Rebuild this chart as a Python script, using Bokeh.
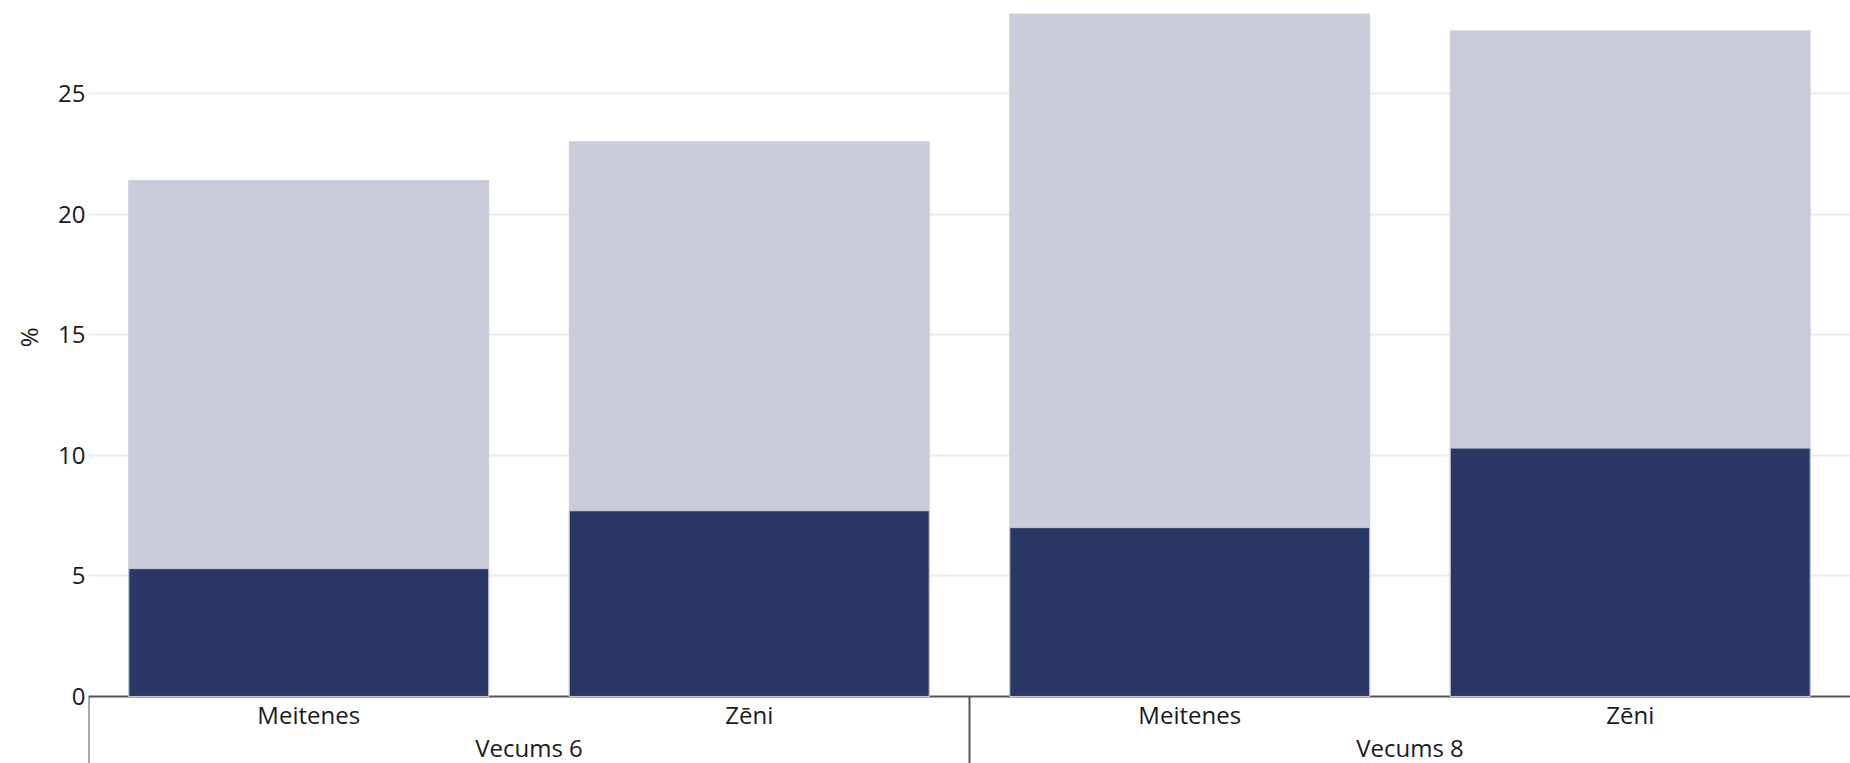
from bokeh.plotting import figure
from bokeh.models import FactorRange, Range1d, FixedTicker, Title, ColumnDataSource
from bokeh.core.properties import value
from bokeh.embed import file_html
from bokeh.resources import INLINE

# ---- data ----
groups = ["Vecums 6", "Vecums 8"]
subgroups = ["Meitenes", "Zēni"]
total_values = [21.4, 23.0, 28.3, 27.6]
dark_values = [5.3, 7.7, 7.0, 10.3]
y_ticks = [0, 5, 10, 15, 20, 25]
y_label = "%"

FONT = "Open Sans"
LIGHT = "#cacdd9"
DARK = "#2b3764"
TEXT = "#1a1a1a"
AXIS = "#555555"

factors = [(g, s) for g in groups for s in subgroups]
source = ColumnDataSource(data=dict(x=factors, total=total_values, dark=dark_values))

# start of each age group (synthetic coordinates) derived from the factor counts
starts = [0]
for g in groups[:-1]:
    starts.append(starts[-1] + len(subgroups))

x_range = FactorRange(*factors, range_padding=0, group_padding=0,
                      factor_padding=0, subgroup_padding=0)
y_start, y_end = -2.78, 28.86

p = figure(x_range=x_range, y_range=Range1d(y_start, y_end),
           width=1850, height=763, output_backend="svg", toolbar_location=None,
           min_border_left=88, min_border_right=0, min_border_top=0, min_border_bottom=0)
p.outline_line_color = None
p.background_fill_color = "white"
p.border_fill_color = "white"

p.vbar(x="x", top="total", bottom=0, width=0.817, source=source,
       fill_color=LIGHT, line_color="#c8cbdb", line_width=1)
p.vbar(x="x", top="dark", bottom=0, width=0.817, source=source,
       fill_color=DARK, line_color="#c5c9dc", line_width=1)

# separators at the start of each age group
p.segment(x0=starts, y0=[0] * len(starts), x1=starts, y1=[y_start] * len(starts),
          line_color=AXIS, line_width=2)

# group labels (age) under the sub-category labels
p.text(x=groups, y=[-2.12] * len(groups), text=groups,
       text_align="center", text_baseline="middle",
       text_font=value(FONT), text_font_size="24px", text_color=TEXT)

# x axis drawn at y = 0
xa = p.xaxis[0]
xa.fixed_location = 0
xa.axis_line_color = AXIS
xa.axis_line_width = 2
xa.major_tick_line_color = None
xa.major_tick_out = 0
xa.major_tick_in = 0
xa.minor_tick_line_color = None
xa.separator_line_color = None
xa.major_label_text_font = FONT
xa.major_label_text_font_size = "24px"
xa.major_label_text_color = TEXT
xa.major_label_standoff = 2
xa.major_label_orientation = "horizontal"
xa.group_text_color = None
xa.level = "underlay"

# y axis
ya = p.yaxis[0]
ya.ticker = FixedTicker(ticks=y_ticks)
ya.axis_line_color = None
ya.major_tick_line_color = None
ya.major_tick_out = 0
ya.major_tick_in = 0
ya.minor_tick_line_color = None
ya.major_label_standoff = 3
ya.major_label_text_font = FONT
ya.major_label_text_font_size = "24px"
ya.major_label_text_color = TEXT

p.xgrid.visible = False
p.ygrid.ticker = FixedTicker(ticks=[t for t in y_ticks if t > 0])
p.ygrid.grid_line_color = "#ececec"
p.ygrid.grid_line_width = 2

p.add_layout(Title(text=y_label, align="right", offset=327, vertical_align="top",
                   standoff=18, text_font=FONT, text_font_size="24px",
                   text_font_style="normal", text_color=TEXT), "left")

open("out.html", "w").write(file_html(p, INLINE))
